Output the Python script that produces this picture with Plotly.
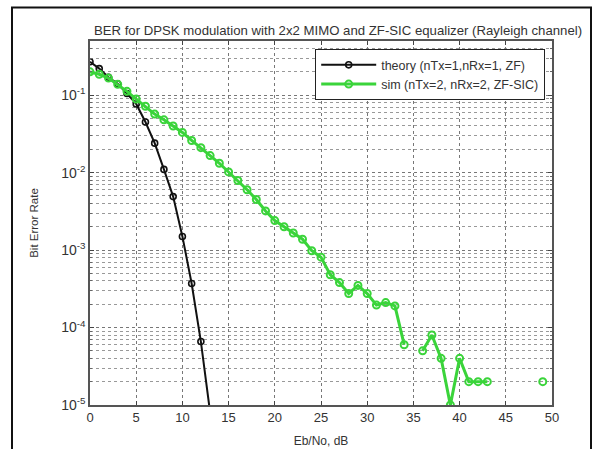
import plotly.graph_objects as go

# Eb/No in dB
ebno_theory = [0, 1, 2, 3, 4, 5, 6, 7, 8, 9, 10, 11, 12, 13]
ber_theory = [0.27, 0.22, 0.17, 0.14, 0.105, 0.077, 0.045, 0.024, 0.011, 0.0049,
              0.0015, 0.00037, 6.6e-05, 8e-06]

ebno_sim = list(range(0, 51))
ber_sim = [0.2, 0.186, 0.166, 0.138, 0.112, 0.089, 0.072, 0.057, 0.048, 0.040,
           0.033, 0.026, 0.021, 0.0166, 0.0132, 0.0102, 0.0079, 0.006, 0.0045, 0.0032,
           0.0024, 0.002, 0.00166, 0.00138, 0.00098, 0.00081, 0.00048, 0.00038, 0.000275, 0.00035,
           0.000275, 0.000195, 0.00021, 0.00019, 6e-05, None, 5e-05, 8e-05, 4e-05, 1e-05,
           4e-05, 2e-05, 2e-05, 2e-05, None, None, None, None, None, 2e-05,
           None]

x_ticks = [0, 5, 10, 15, 20, 25, 30, 35, 40, 45, 50]
y_ticks = [1e-5, 1e-4, 1e-3, 1e-2, 1e-1]
y_ticktext = ["10<sup>-5</sup>", "10<sup>-4</sup>", "10<sup>-3</sup>", "10<sup>-2</sup>", "10<sup>-1</sup>"]

title_text = "BER for DPSK modulation with 2x2 MIMO and ZF-SIC equalizer (Rayleigh channel)"

GREEN = "#3ad43a"
FONT = "Liberation Sans, Arial, sans-serif"

fig = go.Figure()
fig.add_trace(go.Scatter(
    x=ebno_theory, y=ber_theory, mode="lines+markers",
    name="theory (nTx=1,nRx=1, ZF)",
    line=dict(color="#111111", width=2),
    marker=dict(symbol="circle-open", size=6, color="#111111", line=dict(width=1.6)),
))
fig.add_trace(go.Scatter(
    x=ebno_sim, y=ber_sim, mode="lines+markers", connectgaps=False,
    name="sim (nTx=2, nRx=2, ZF-SIC)",
    line=dict(color=GREEN, width=3),
    marker=dict(symbol="circle-open", size=7, color=GREEN, line=dict(width=2)),
))

L, R, T, B = 90, 50, 41, 44
W, H = 602, 449
pw = W - L - R
ph = H - T - B

def px(x):
    return (x - L) / pw

def py(y):
    return (H - B - y) / ph

fig.update_layout(
    width=W, height=H,
    margin=dict(l=L, r=R, t=T, b=B, autoexpand=False),
    paper_bgcolor="white", plot_bgcolor="white",
    font=dict(family=FONT, size=11, color="#333333"),
    title=dict(text=title_text, x=px(338), xref="paper", xanchor="center",
               y=1 - 30 / H, yanchor="middle", font=dict(size=13.2, color="#333333")),
    showlegend=True,
    legend=dict(x=px(545), y=py(49), xanchor="right", yanchor="top",
                bgcolor="white", bordercolor="#222222", borderwidth=1.2,
                font=dict(size=12.5, color="#333333"), tracegroupgap=0,
                itemwidth=55),
    xaxis=dict(
        range=[0, 50], tickvals=x_ticks, ticktext=[str(v) for v in x_ticks],
        ticks="inside", ticklen=4, tickcolor="#444444",
        showline=True, linecolor="#555555", linewidth=1.5, mirror="ticks",
        showgrid=True, gridcolor="#777777", griddash="dot", gridwidth=1,
        zeroline=False, automargin=False,
        title=dict(text="Eb/No, dB", standoff=12, font=dict(size=12)),
        tickfont=dict(size=13),
    ),
    yaxis=dict(
        type="log", range=[-5, -0.30103],
        tickvals=y_ticks, ticktext=y_ticktext,
        ticks="inside", ticklen=4, tickcolor="#444444",
        showline=True, linecolor="#555555", linewidth=1.5, mirror="ticks",
        showgrid=True, gridcolor="#777777", griddash="dot", gridwidth=1,
        minor=dict(dtick="D1", showgrid=True, gridcolor="#999999", griddash="dot",
                   ticks="inside", ticklen=2, tickcolor="#666666"),
        zeroline=False, automargin=False,
        title=dict(text="Bit Error Rate", standoff=20, font=dict(size=11.5)),
        tickfont=dict(size=14),
    ),
    shapes=[
        dict(type="rect", xref="paper", yref="paper",
             x0=px(12), x1=px(591), y0=py(470), y1=py(7.5),
             line=dict(color="#111111", width=2), fillcolor="rgba(0,0,0,0)", layer="below"),
    ],
)

fig.write_html("out.html")
